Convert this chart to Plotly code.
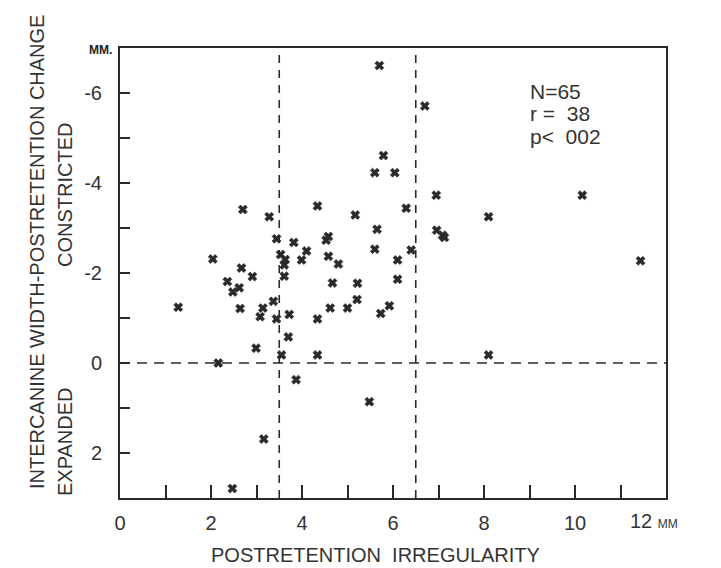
import plotly.graph_objects as go

# Postretention irregularity (mm) vs intercanine width change (mm)
irregularity = [5.70, 6.70, 5.79, 5.60, 6.04, 2.70, 3.28, 4.34, 5.17, 6.29,
                5.65, 3.44, 3.82, 4.53, 4.58, 4.10, 5.60, 6.40, 2.04, 3.53,
                3.63, 3.61, 3.99, 4.58, 4.80, 6.10, 2.67, 2.91, 3.61, 6.10,
                6.95, 8.10, 10.16, 6.96, 7.13, 11.44, 2.36, 2.62, 2.48, 4.67,
                5.22, 5.21, 1.28, 2.64, 3.14, 3.37, 3.08, 3.44, 3.72, 4.34,
                4.62, 5.00, 5.73, 5.92, 3.70, 2.99, 3.55, 4.34, 2.16, 3.87,
                5.48, 3.16, 2.47, 8.10, 7.09]
width_change = [-6.61, -5.71, -4.61, -4.23, -4.23, -3.41, -3.25, -3.49, -3.29, -3.44,
                -2.97, -2.76, -2.68, -2.73, -2.81, -2.49, -2.53, -2.51, -2.31, -2.41,
                -2.30, -2.18, -2.29, -2.37, -2.20, -2.29, -2.11, -1.92, -1.93, -1.86,
                -3.73, -3.25, -3.73, -2.95, -2.79, -2.27, -1.81, -1.67, -1.58, -1.78,
                -1.77, -1.41, -1.24, -1.21, -1.22, -1.37, -1.03, -0.98, -1.08, -0.98,
                -1.22, -1.22, -1.10, -1.27, -0.58, -0.33, -0.18, -0.18, 0.0, 0.37,
                0.86, 1.69, 2.79, -0.18, -2.84]

x_tick_vals = [0, 2, 4, 6, 8, 10]
x_tick_text = ["0", "2", "4", "6", "8", "10"]
y_tick_vals = [-6, -4, -2, 0, 2]
y_tick_text = ["-6", "-4", "-2", "0", "2"]
x_dividers = [3.5, 6.5]
y_divider = 0
stats_lines = ["N=65", "r =  38", "p<  002"]

ink = "#2a2a2a"
txt = "#333333"
font = "Liberation Sans, Arial, sans-serif"

# page body has an 8px default margin; plot area lands at x 120..666, y 48..498
PL, PT, PW, PH = 120, 48, 546, 450

fig = go.Figure()
fig.add_trace(go.Scatter(
    x=irregularity, y=width_change, mode="markers",
    marker=dict(symbol="x", size=8, color=ink, line=dict(width=0.6, color=ink)),
    showlegend=False, hoverinfo="x+y"))

for xv in x_dividers:
    fig.add_shape(type="line", xref="x", yref="paper", x0=xv, x1=xv, y0=0, y1=1,
                  line=dict(color=ink, width=1.6, dash="8px,7px"))
fig.add_shape(type="line", xref="paper", yref="y", x0=0, x1=1, y0=y_divider, y1=y_divider,
              line=dict(color=ink, width=1.6, dash="10px,7px"))

fig.update_layout(
    width=713, height=560,
    margin=dict(l=112, r=55, t=40, b=70),
    paper_bgcolor="white", plot_bgcolor="white",
    font=dict(family=font, color=txt, size=20),
    xaxis=dict(range=[0, 12], tickvals=x_tick_vals, ticktext=x_tick_text,
               ticks="inside", ticklen=13, tickwidth=1.5, tickcolor=ink,
               minor=dict(ticks="inside", ticklen=13, tickwidth=1.5, tickcolor=ink, dtick=1, tick0=0),
               showline=True, linecolor=ink, linewidth=2, mirror=True,
               showgrid=False, zeroline=False, ticklabelstandoff=6,
               tickfont=dict(size=20)),
    yaxis=dict(range=[3, -7], tickvals=y_tick_vals, ticktext=y_tick_text,
               ticks="inside", ticklen=10, tickwidth=1.5, tickcolor=ink,
               minor=dict(ticks="inside", ticklen=10, tickwidth=1.5, tickcolor=ink, dtick=1, tick0=0),
               showline=True, linecolor=ink, linewidth=2, mirror=True,
               showgrid=False, zeroline=False, ticklabelstandoff=12,
               tickfont=dict(size=20)),
)


def px_to_paper(xp, yp):
    return (xp - PL) / PW, 1 - (yp - PT) / PH


texts = [
    ("INTERCANINE WIDTH-POSTRETENTION CHANGE", 37, 252, -90, 20),
    ("CONSTRICTED", 65, 195, -90, 20),
    ("EXPANDED", 65, 442, -90, 20),
    ("POSTRETENTION  IRREGULARITY", 375, 555, 0, 20),
]
for t, xp, yp, ang, sz in texts:
    xr, yr = px_to_paper(xp, yp)
    fig.add_annotation(text=t, xref="paper", yref="paper", x=xr, y=yr,
                       xanchor="center", yanchor="middle", textangle=ang,
                       showarrow=False, font=dict(size=sz, color=txt))

xr, yr = px_to_paper(100, 50)
fig.add_annotation(text="<b>MM.</b>", xref="paper", yref="paper", x=xr, y=yr,
                   xanchor="center", yanchor="middle", showarrow=False,
                   font=dict(size=12, color="#222222"))
xr, yr = px_to_paper(0, 521)
fig.add_annotation(text="12 <span style='font-size:12px'>MM</span>", xref="x", yref="paper",
                   x=12, y=yr, xanchor="right", yanchor="middle", xshift=14,
                   showarrow=False, font=dict(size=20, color=txt))
for i, line in enumerate(stats_lines):
    xr, yr = px_to_paper(528, 91 + 22.5 * i)
    fig.add_annotation(text=line, xref="paper", yref="paper", x=xr, y=yr,
                       xanchor="left", yanchor="middle", showarrow=False,
                       font=dict(size=21, color=txt))

fig.write_html("out.html")
